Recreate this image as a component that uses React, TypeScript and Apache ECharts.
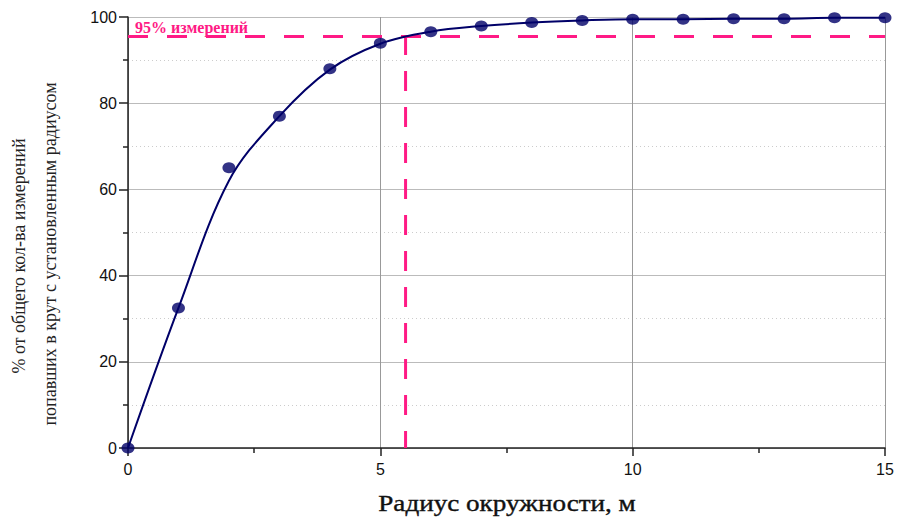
import React, { useEffect, useRef } from "react";
import * as echarts from "echarts";

const radius = [0, 1, 2, 3, 4, 5, 6, 7, 8, 9, 10, 11, 12, 13, 14, 15];
const percent = [0, 32.5, 65, 77, 88, 93.9, 96.6, 97.9, 98.7, 99.2, 99.5, 99.5, 99.6, 99.6, 99.8, 99.8];
const fitX = [0, 1, 2, 3, 4, 5, 6, 7, 8, 9, 10, 11, 12, 13, 14, 15];
const fitY = [0, 32.5, 62, 77, 87.8, 93.8, 96.6, 97.9, 98.7, 99.2, 99.5, 99.5, 99.6, 99.6, 99.8, 99.8];
const threshold = 95.5;
const thresholdRadius = 5.5;
const xTicks = [0, 5, 10, 15];
const yTicks = [0, 20, 40, 60, 80, 100];

const NAVY = "#000068";
const PINK = "#FF1A85";

export default function App() {
  const ref = useRef<HTMLDivElement>(null);
  useEffect(() => {
    if (!ref.current) return;
    const chart = echarts.init(ref.current, undefined, { renderer: "svg" });
    chart.setOption({
      animation: false,
      backgroundColor: "#fff",
      grid: { left: 128, right: 13, top: 17, bottom: 71, containLabel: false },
      xAxis: {
        type: "value",
        min: xTicks[0],
        max: xTicks[xTicks.length - 1],
        interval: 5,
        axisLine: { show: true, onZero: false, lineStyle: { color: "#222", width: 1.5 } },
        axisTick: { show: true, inside: false, length: 8, lineStyle: { color: "#222", width: 1.5 } },
        minorTick: { show: true, splitNumber: 2, length: 5, lineStyle: { color: "#222", width: 1.5 } },
        axisLabel: { fontFamily: "Liberation Sans", fontSize: 16, color: "#111", margin: 13 },
        splitLine: { show: true, lineStyle: { color: "#999", width: 1 } },
      },
      yAxis: {
        type: "value",
        min: yTicks[0],
        max: yTicks[yTicks.length - 1],
        interval: 20,
        axisLine: { show: true, onZero: false, lineStyle: { color: "#222", width: 1.5 } },
        axisTick: { show: true, inside: false, length: 9, lineStyle: { color: "#222", width: 1.5 } },
        minorTick: { show: true, splitNumber: 2, length: 5, lineStyle: { color: "#222", width: 1.5 } },
        axisLabel: { fontFamily: "Liberation Sans", fontSize: 16, color: "#111", margin: 11 },
        splitLine: { show: true, lineStyle: { color: "#bbb", width: 1.2 } },
        minorSplitLine: { show: true, lineStyle: { color: "#ccc", width: 1, type: [1, 3] } },
      },
      series: [
        {
          type: "line",
          data: fitX.map((x, i) => [x, fitY[i]]),
          smooth: 0.35,
          showSymbol: false,
          lineStyle: { color: NAVY, width: 2 },
          z: 3,
        },
        {
          type: "scatter",
          data: radius.map((x, i) => [x, percent[i]]),
          symbol: "circle",
          symbolSize: [13, 11],
          itemStyle: { color: NAVY },
          z: 4,
        },
        {
          type: "line",
          data: [[xTicks[0], threshold], [xTicks[xTicks.length - 1], threshold]],
          showSymbol: false,
          lineStyle: { color: PINK, width: 3, type: [20, 19] },
          z: 2,
        },
        {
          type: "line",
          data: [[thresholdRadius, 0], [thresholdRadius, 97]],
          showSymbol: false,
          lineStyle: { color: PINK, width: 3, type: [20, 16], dashOffset: 3 },
          z: 2,
        },
      ],
      graphic: [
        {
          type: "text",
          left: 135,
          top: 19,
          z: 10,
          style: {
            text: "95% измерений",
            fill: PINK,
            font: "bold 16px 'Liberation Serif'",
          },
        },
        {
          type: "text",
          x: 507,
          y: 503,
          scaleX: 1.13,
          style: {
            text: "Радиус окружности, м",
            fill: "#111",
            font: "24px 'Liberation Serif'",
            align: "center",
            verticalAlign: "middle",
            stroke: "#111",
            lineWidth: 0.4,
          },
        },
        {
          type: "text",
          x: 19,
          y: 256,
          rotation: Math.PI / 2,
          style: {
            text: "% от общего кол-ва измерений",
            fill: "#222",
            font: "18px 'Liberation Serif'",
            align: "center",
            verticalAlign: "middle",
          },
        },
        {
          type: "text",
          x: 50,
          y: 254,
          rotation: Math.PI / 2,
          style: {
            text: "попавших в крут с установленным радиусом",
            fill: "#222",
            font: "18px 'Liberation Serif'",
            align: "center",
            verticalAlign: "middle",
          },
        },
      ],
    });
    return () => chart.dispose();
  }, []);
  return <div ref={ref} style={{ width: 898, height: 519, position: "absolute", left: 0, top: 0 }} />;
}
